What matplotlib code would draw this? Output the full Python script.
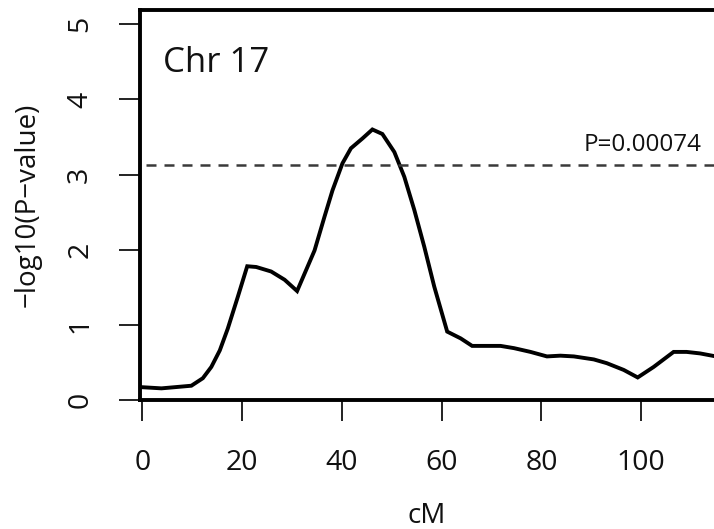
import numpy as np
import matplotlib
matplotlib.use('Agg')
import matplotlib.pyplot as plt

plt.rcParams['font.family'] = ['Open Sans', 'DejaVu Sans']

# position (cM)
cm = [0, 3.8, 9.8, 12.1, 13.8, 15.5, 17.1, 19.1, 21.0, 22.8, 25.8, 28.5, 31.0,
      34.5, 36.5, 38.1, 40.1, 41.8, 44.1, 46.1, 48.1, 50.5, 52.5, 54.5, 56.5,
      58.5, 61.1, 63.8, 66.1, 69.1, 71.8, 74.5, 77.8, 81.1, 83.8, 86.5, 90.5,
      93.1, 96.5, 99.3, 102.5, 106.5, 109.1, 111.8, 114.6]
# -log10(P)
logp = [0.17, 0.155, 0.19, 0.29, 0.44, 0.66, 0.95, 1.37, 1.78, 1.77, 1.71, 1.60, 1.45,
        1.99, 2.44, 2.79, 3.15, 3.35, 3.48, 3.60, 3.54, 3.30, 2.97, 2.53, 2.04,
        1.51, 0.91, 0.82, 0.72, 0.72, 0.72, 0.69, 0.64, 0.58, 0.59, 0.58, 0.54,
        0.49, 0.40, 0.30, 0.44, 0.64, 0.64, 0.62, 0.585]

threshold_p = 0.00074
threshold = -np.log10(threshold_p)

fig = plt.figure(figsize=(7.14, 5.29), dpi=100)
ax = fig.add_axes([140/714, 129/529, 574/714, 390/529])

ax.plot(cm, logp, color='black', lw=2.8, solid_joinstyle='miter')
ax.axhline(threshold, xmin=0.01, color='#3a3a3a', lw=1.8, dashes=(4.0, 3.2))

ax.text(112.2, threshold + 0.1, 'P=%.5f' % threshold_p, ha='right', va='bottom',
        fontsize=17.5, color='#111111')
ax.text(4.2, 4.48, 'Chr 17', ha='left', va='center', fontsize=25, color='#111111')

ax.set_xlim(-0.5, 114.6)
ax.set_ylim(0, 5.19)
ax.set_xticks([0, 20, 40, 60, 80, 100])
ax.set_yticks([0, 1, 2, 3, 4, 5])

for s in ['left', 'top', 'bottom']:
    ax.spines[s].set_linewidth(2.8)
ax.spines['right'].set_visible(False)

ax.tick_params(axis='both', direction='out', length=15, width=1.3,
               labelsize=20.5, colors='#111111')
ax.tick_params(axis='x', pad=20)
ax.tick_params(axis='y', pad=18)
for lab in ax.get_yticklabels():
    lab.set_rotation(90)
    lab.set_va('center')

ax.set_xlabel('cM', fontsize=20, color='#111111', labelpad=18)
ax.set_ylabel('\u2212log10(P\u2212value)', fontsize=20, color='#111111', labelpad=18)

fig.savefig('out.png', dpi=100)
